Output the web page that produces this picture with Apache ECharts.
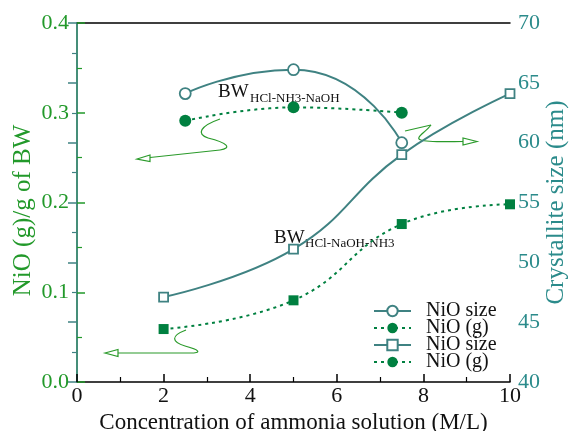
<!DOCTYPE html>
<html>
<head>
<meta charset="utf-8">
<script src="https://cdn.jsdelivr.net/npm/echarts@6/dist/echarts.min.js"></script>
<style>
html,body{margin:0;padding:0;background:#fff;}
#c{width:569px;height:431px;}
</style>
</head>
<body>
<div id="c"></div>
<script>
// ---- data ----
var xCircle = [2.5, 5, 7.5];
var sizeCircle = [64.1, 66.1, 60.0];   // NiO size (nm), BW HCl-NH3-NaOH
var gCircle = [0.291, 0.306, 0.300];   // NiO (g)/g of BW, BW HCl-NH3-NaOH
var xSquare = [2, 5, 7.5, 10];
var sizeSquare = [47.1, 51.1, 59.0, 64.1]; // NiO size (nm), BW HCl-NaOH-NH3
var gSquare = [0.059, 0.091, 0.176, 0.198]; // NiO (g)/g of BW, BW HCl-NaOH-NH3
var seriesNames = ['NiO size', 'NiO (g)', 'NiO size ', 'NiO (g) '];
var xTitle = 'Concentration of ammonia solution (M/L)';
var yLeftTitle = 'NiO (g)/g of BW';
var yRightTitle = 'Crystallite size (nm)';

function pairs(xs, ys, extra) {
  return xs.map(function (x, i) {
    var o = { value: [x, ys[i]] };
    if (extra) { for (var k in extra) o[k] = extra[k]; }
    return o;
  });
}

var FONT = 'Liberation Serif';
var TEAL = '#3f8282';
var TEALTXT = '#2b8b8b';
var GREEN = '#008040';
var LGREEN = '#22992a';
var ARROW = '#2a9a2a';

function bez(p0, c1, c2, p1) {
  return { type: 'bezierCurve', shape: { x1: p0[0], y1: p0[1], cpx1: c1[0], cpy1: c1[1], cpx2: c2[0], cpy2: c2[1], x2: p1[0], y2: p1[1] },
    style: { fill: null, stroke: ARROW, lineWidth: 1.2 } };
}
function seg(p0, p1) {
  return { type: 'line', shape: { x1: p0[0], y1: p0[1], x2: p1[0], y2: p1[1] }, style: { stroke: ARROW, lineWidth: 1.2 } };
}
function head(pts) {
  return { type: 'polygon', shape: { points: pts }, style: { fill: '#fff', stroke: ARROW, lineWidth: 1.2 } };
}
var legendRows = [301, 318, 335, 352];
function legendAt(i) {
  return {
    orient: 'vertical', left: 373, top: legendRows[i], padding: 0,
    itemWidth: 37, itemHeight: 13, itemGap: 0,
    textStyle: { fontFamily: FONT, fontSize: 20, color: '#111', lineHeight: 20, padding: [0, 0, 0, 10] },
    data: [seriesNames[i]]
  };
}

var chart = echarts.init(document.getElementById('c'), null, { renderer: 'canvas' });

var option = {
  animation: false,
  backgroundColor: '#fff',
  grid: { left: 77, right: 59, top: 23, bottom: 49, containLabel: false, outerBoundsMode: 'none' },
  xAxis: [{
    type: 'value', min: 0, max: 10, interval: 2,
    position: 'bottom',
    name: xTitle, nameLocation: 'middle', nameGap: 21,
    nameTextStyle: { fontFamily: FONT, fontSize: 23, color: '#111' },
    axisLine: { lineStyle: { color: '#000', width: 1.5 } },
    axisTick: { inside: true, length: 8, lineStyle: { color: '#000', width: 1.5 } },
    minorTick: { show: true, splitNumber: 2, length: 5, lineStyle: { color: '#000', width: 1.2 } },
    axisLabel: { fontFamily: FONT, fontSize: 22, color: '#111', margin: 3, showMinLabel: true, showMaxLabel: true },
    splitLine: { show: false }
  }, {
    type: 'value', min: 0, max: 10, position: 'top',
    axisLine: { lineStyle: { color: '#000', width: 1.5 } },
    axisTick: { show: false }, axisLabel: { show: false }, splitLine: { show: false }
  }],
  yAxis: [{
    type: 'value', min: 0, max: 0.4, interval: 0.1, position: 'left',
    name: yLeftTitle, nameLocation: 'middle', nameGap: 41, nameMoveOverlap: false,
    nameTextStyle: { fontFamily: FONT, fontSize: 25, color: LGREEN, padding: [0, 16, 0, 0] },
    axisLine: { show: true, lineStyle: { color: LGREEN, width: 1.5 } },
    axisTick: { inside: true, length: 8, lineStyle: { color: LGREEN, width: 1.5 } },
    minorTick: { show: true, splitNumber: 2, length: 5, lineStyle: { color: LGREEN, width: 1.2 } },
    axisLabel: { fontFamily: FONT, fontSize: 22, color: LGREEN, margin: 8,
      formatter: function (v) { return v.toFixed(1); } },
    splitLine: { show: false }
  }, {
    type: 'value', min: 40, max: 70, interval: 5, position: 'right',
    name: yRightTitle, nameLocation: 'middle', nameGap: 34, nameMoveOverlap: false,
    nameTextStyle: { fontFamily: FONT, fontSize: 25, color: TEALTXT },
    axisLine: { show: true, lineStyle: { color: TEAL, width: 1.5 } },
    axisTick: { inside: true, length: 9, lineStyle: { color: TEAL, width: 1.5 } },
    minorTick: { show: true, splitNumber: 2, length: 5, lineStyle: { color: TEAL, width: 1.2 } },
    axisLabel: { fontFamily: FONT, fontSize: 22, color: TEALTXT, margin: 8 },
    splitLine: { show: false }
  }],
  legend: [legendAt(0), legendAt(1), legendAt(2), legendAt(3)],
  series: [{
    name: seriesNames[0], type: 'line', yAxisIndex: 1, smooth: 0.6,
    symbol: 'circle', symbolSize: 11,
    lineStyle: { color: TEAL, width: 2 },
    itemStyle: { color: '#fff', borderColor: TEAL, borderWidth: 1.8 },
    data: pairs(xCircle, sizeCircle), z: 3
  }, {
    name: seriesNames[1], type: 'line', yAxisIndex: 0, smooth: 0.45,
    symbol: 'circle', symbolSize: 12,
    lineStyle: { color: GREEN, width: 2, type: [3, 4] },
    itemStyle: { color: GREEN },
    data: pairs(xCircle, gCircle), z: 3
  }, {
    name: seriesNames[2], type: 'line', yAxisIndex: 1, smooth: 0.45,
    symbol: 'rect', symbolSize: 9,
    lineStyle: { color: TEAL, width: 2 },
    itemStyle: { color: '#fff', borderColor: TEAL, borderWidth: 1.8 },
    data: pairs(xSquare, sizeSquare), z: 3
  }, {
    name: seriesNames[3], type: 'line', yAxisIndex: 0, smooth: 0.45,
    symbol: 'circle', symbolSize: 10,
    lineStyle: { color: GREEN, width: 2, type: [3, 4] },
    itemStyle: { color: GREEN },
    data: pairs(xSquare, gSquare, { symbol: 'rect' }), z: 3
  }],
  graphic: [
    { type: 'text', left: 218, top: 83, style: { text: 'BW', fontFamily: FONT, fontSize: 19, fill: '#111' } },
    { type: 'text', left: 250, top: 92, style: { text: 'HCl-NH3-NaOH', fontFamily: FONT, fontSize: 13, fill: '#111' } },
    { type: 'text', left: 274, top: 229, style: { text: 'BW', fontFamily: FONT, fontSize: 19, fill: '#111' } },
    { type: 'text', left: 305, top: 237, style: { text: 'HCl-NaOH-NH3', fontFamily: FONT, fontSize: 13, fill: '#111' } },
    bez([220, 119], [200, 126], [196, 134], [208, 138]),
    bez([208, 138], [228, 143], [232, 148], [220, 150]),
    seg([220, 150], [150, 157.5]),
    head([[137, 159], [150, 155], [150, 161.5]]),
    seg([405, 131], [431, 125]),
    bez([431, 125], [425, 133], [414, 138], [421, 140]),
    bez([421, 140], [426, 142], [440, 142], [463, 141.5]),
    head([[477, 141.5], [463, 138], [463, 145]]),
    bez([186, 330], [170, 336], [172, 342], [185, 346]),
    bez([185, 346], [200, 350], [202, 353], [190, 353]),
    seg([190, 353], [118, 353]),
    head([[105, 353], [118, 349.5], [118, 356.5]])
  ]
};
chart.setOption(option);
</script>
</body>
</html>
